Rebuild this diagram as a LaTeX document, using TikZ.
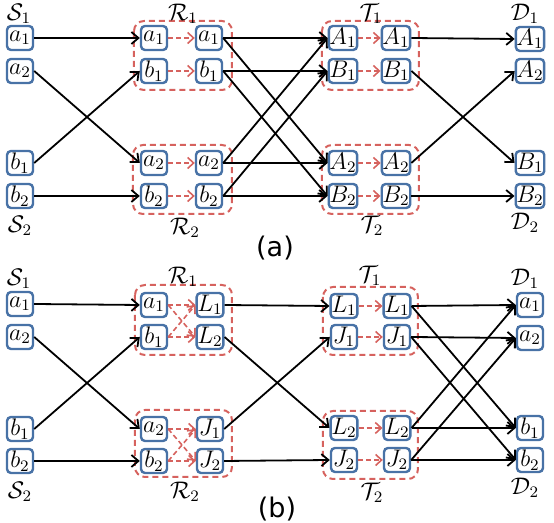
\documentclass[tikz,border=0pt]{standalone}
\usepackage{amssymb}
\usepackage{amsmath}
\usepackage{fontspec}
\usepackage{tikz}
\usetikzlibrary{shapes,arrows.meta}
\newfontfamily\capfont{DejaVu Sans}
\definecolor{boxblue}{RGB}{72,114,166}
\definecolor{grpred}{RGB}{214,98,94}
\begin{document}
\begin{tikzpicture}[x=0.5pt,y=-0.5pt]
\tikzstyle{every node}=[font=\fontsize{12}{14}\selectfont];
\tikzstyle{box}=[draw=boxblue, line width=1.2pt, rounded corners=2pt, minimum width=13pt, minimum height=12pt, inner sep=0.3pt];
\tikzstyle{grp}=[draw=grpred, line width=1pt, dash pattern=on 3pt off 2pt, rounded corners=5pt];
\tikzstyle{link}=[-{Straight Barb[length=3.5pt,width=6pt]}, line width=0.9pt];
\tikzstyle{pass}=[-{Straight Barb[length=3pt,width=5.5pt]}, draw=grpred, line width=0.8pt, dash pattern=on 2.5pt off 1.5pt];
\tikzstyle{tag}=[inner sep=0pt];
\useasboundingbox (0,0) rectangle (554,523);
% (a)
   \draw[grp] (134,21) rectangle (232,90);
   \draw[grp] (133,145) rectangle (232,214);
   \draw[grp] (322,21) rectangle (419,90);
   \draw[grp] (322,145) rectangle (419,214);
   \node[tag] (lS1) at (19,14) {$\mathcal{S}_1$};
   \node[tag] (lS2) at (20,226) {$\mathcal{S}_2$};
   \node[tag] (lR1) at (183,14) {$\mathcal{R}_1$};
   \node[tag] (lR2) at (185,228) {$\mathcal{R}_2$};
   \node[tag] (lT1) at (371,14) {$\mathcal{T}_1$};
   \node[tag] (lT2) at (372,226) {$\mathcal{T}_2$};
   \node[tag] (lD1) at (525,14) {$\mathcal{D}_1$};
   \node[tag] (lD2) at (525,223) {$\mathcal{D}_2$};
   \node[box] (sa1) at (20,38) {$a_1$};
   \node[box] (sa2) at (20,71) {$a_2$};
   \node[box] (sb1) at (20,163) {$b_1$};
   \node[box] (sb2) at (20,196) {$b_2$};
   \node[box] (ra1) at (154,38) {$a_1$};
   \node[box] (rb1) at (154,71) {$b_1$};
   \node[box] (ra2) at (154,163) {$a_2$};
   \node[box] (rb2) at (154,196) {$b_2$};
   \node[box] (ra1o) at (209,38) {$a_1$};
   \node[box] (rb1o) at (209,71) {$b_1$};
   \node[box] (ra2o) at (209,163) {$a_2$};
   \node[box] (rb2o) at (209,196) {$b_2$};
   \node[box] (tA1) at (343,38) {$A_1$};
   \node[box] (tB1) at (343,71) {$B_1$};
   \node[box] (tA2) at (343,163) {$A_2$};
   \node[box] (tB2) at (343,196) {$B_2$};
   \node[box] (tA1o) at (396,38) {$A_1$};
   \node[box] (tB1o) at (396,71) {$B_1$};
   \node[box] (tA2o) at (396,163) {$A_2$};
   \node[box] (tB2o) at (396,196) {$B_2$};
   \node[box] (dA1) at (530,39) {$A_1$};
   \node[box] (dA2) at (530,71) {$A_2$};
   \node[box] (dB1) at (530,163) {$B_1$};
   \node[box] (dB2) at (530,196) {$B_2$};
   \node (capa) at (275,248) {\capfont\fontsize{13.5}{16}\selectfont (a)};
  \foreach \from/\to in {sa1/ra1,sa2/ra2,sb1/rb1,sb2/rb2,ra1o/tA1,ra1o/tA2,rb1o/tB1,rb1o/tB2,ra2o/tA2,ra2o/tA1,rb2o/tB2,rb2o/tB1,tA1o/dA1,tB1o/dB1,tA2o/dA2,tB2o/dB2}
    \draw[link] (\from.east) -- (\to.west);
  \foreach \from/\to in {ra1/ra1o,rb1/rb1o,ra2/ra2o,rb2/rb2o,tA1/tA1o,tB1/tB1o,tA2/tA2o,tB2/tB2o}
    \draw[pass] (\from.east) -- (\to.west);
% (b)
   \draw[grp] (135,285) rectangle (232,355);
   \draw[grp] (135,410) rectangle (232,477);
   \draw[grp] (323,287) rectangle (418,355);
   \draw[grp] (323,411) rectangle (418,479);
   \node[tag] (mS1) at (19,279) {$\mathcal{S}_1$};
   \node[tag] (mS2) at (20,492) {$\mathcal{S}_2$};
   \node[tag] (mR1) at (183,277) {$\mathcal{R}_1$};
   \node[tag] (mR2) at (185,492) {$\mathcal{R}_2$};
   \node[tag] (mT1) at (370,276) {$\mathcal{T}_1$};
   \node[tag] (mT2) at (372,493) {$\mathcal{T}_2$};
   \node[tag] (mD1) at (525,279) {$\mathcal{D}_1$};
   \node[tag] (mD2) at (525,488) {$\mathcal{D}_2$};
   \node[box] (xa1) at (20,304) {$a_1$};
   \node[box] (xa2) at (20,337) {$a_2$};
   \node[box] (xb1) at (20,429) {$b_1$};
   \node[box] (xb2) at (20,461) {$b_2$};
   \node[box] (ya1) at (154,305) {$a_1$};
   \node[box] (yb1) at (154,337) {$b_1$};
   \node[box] (ya2) at (154,429) {$a_2$};
   \node[box] (yb2) at (154,461) {$b_2$};
   \node[box] (yL1) at (210,305) {$L_1$};
   \node[box] (yL2) at (210,337) {$L_2$};
   \node[box] (yJ1) at (210,429) {$J_1$};
   \node[box] (yJ2) at (210,461) {$J_2$};
   \node[box] (zL1) at (344,306) {$L_1$};
   \node[box] (zJ1) at (344,337) {$J_1$};
   \node[box] (zL2) at (344,428) {$L_2$};
   \node[box] (zJ2) at (344,460) {$J_2$};
   \node[box] (zL1o) at (397,306) {$L_1$};
   \node[box] (zJ1o) at (397,337) {$J_1$};
   \node[box] (zL2o) at (397,428) {$L_2$};
   \node[box] (zJ2o) at (397,460) {$J_2$};
   \node[box] (da1) at (530,305) {$a_1$};
   \node[box] (da2) at (530,338) {$a_2$};
   \node[box] (db1) at (530,428) {$b_1$};
   \node[box] (db2) at (530,460) {$b_2$};
   \node (capb) at (277,509) {\capfont\fontsize{13.5}{16}\selectfont (b)};
  \foreach \from/\to in {xa1/ya1,xa2/ya2,xb1/yb1,xb2/yb2,yL1/zL1,yL2/zL2,yJ1/zJ1,yJ2/zJ2,zL1o/da1,zL1o/db1,zJ1o/da2,zJ1o/db2,zL2o/db1,zL2o/da1,zJ2o/db2,zJ2o/da2}
    \draw[link] (\from.east) -- (\to.west);
  \foreach \from/\to in {ya1/yL1,ya1/yL2,yb1/yL1,yb1/yL2,ya2/yJ1,ya2/yJ2,yb2/yJ1,yb2/yJ2,zL1/zL1o,zJ1/zJ1o,zL2/zL2o,zJ2/zJ2o}
    \draw[pass] (\from.east) -- (\to.west);
\end{tikzpicture}
\end{document}
